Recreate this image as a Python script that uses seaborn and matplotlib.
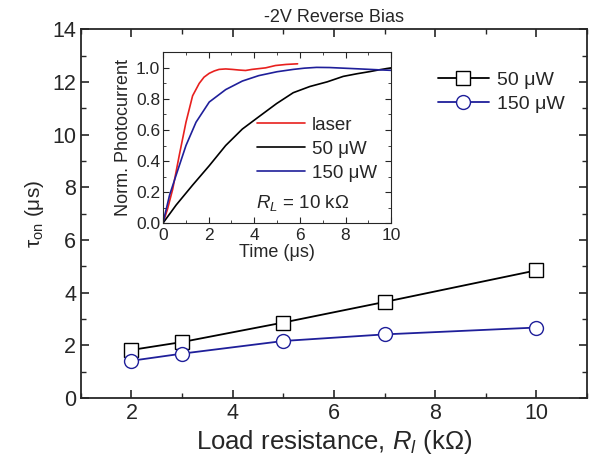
import numpy as np
import pandas as pd
import matplotlib
matplotlib.use("Agg")
import matplotlib.pyplot as plt
from matplotlib.ticker import MultipleLocator, FormatStrFormatter
import seaborn as sns

# main panel: turn-on time vs load resistance
load_kohm = [2, 3, 5, 7, 10]
ton_50uw = [1.83, 2.13, 2.87, 3.65, 4.85]
ton_150uw = [1.42, 1.69, 2.17, 2.42, 2.68]

# inset: normalised photocurrent traces (RL = 10 kOhm)
t_laser = [0, 0.2, 0.43, 0.72, 1.01, 1.3, 1.59, 1.8, 2.03, 2.25, 2.46, 2.75, 3.04, 3.33,
           3.62, 3.9, 4.2, 4.5, 4.93, 5.4, 5.9]
v_laser = [0, 0.09, 0.22, 0.44, 0.65, 0.82, 0.90, 0.94, 0.965, 0.98, 0.99, 0.993, 0.99,
           0.986, 0.983, 0.99, 0.995, 1.0, 1.015, 1.022, 1.026]
t_50 = [0, 0.58, 1.3, 2.03, 2.75, 3.48, 4.2, 4.98, 5.71, 6.44, 7.2, 7.9, 8.5, 9.07, 9.5, 10]
v_50 = [0, 0.117, 0.245, 0.37, 0.5, 0.606, 0.685, 0.77, 0.84, 0.88, 0.91, 0.945, 0.962,
        0.976, 0.988, 1.0]
t_150 = [0, 0.29, 0.58, 1.01, 1.45, 2.03, 2.75, 3.48, 4.2, 5.0, 5.71, 6.2, 6.73, 7.3,
         7.9, 8.5, 9.07, 9.5, 10]
v_150 = [0, 0.18, 0.31, 0.5, 0.65, 0.78, 0.86, 0.915, 0.95, 0.975, 0.99, 0.998, 1.003,
         1.002, 0.998, 0.994, 0.99, 0.987, 0.984]

sns.set_style("ticks")
plt.rcParams['font.family'] = ['Liberation Sans', 'DejaVu Sans']
plt.rcParams['mathtext.fontset'] = 'custom'
plt.rcParams['mathtext.rm'] = 'Liberation Sans'
plt.rcParams['mathtext.it'] = 'Liberation Sans:italic'
plt.rcParams['xtick.direction'] = 'in'
plt.rcParams['ytick.direction'] = 'in'

black = "black"
blue = "#1f1f9a"
red = "#e8201e"

fig = plt.figure(figsize=(5.99, 4.63), dpi=100)
ax = fig.add_axes([0.135, 0.140, 0.845, 0.797])

df = pd.DataFrame({
    "R": load_kohm * 2,
    "ton": ton_50uw + ton_150uw,
    "P": ["50 \u03bcW"] * 5 + ["150 \u03bcW"] * 5,
})
palette = {"50 \u03bcW": black, "150 \u03bcW": blue}
sns.lineplot(data=df, x="R", y="ton", hue="P", style="P", palette=palette,
             markers={"50 \u03bcW": "s", "150 \u03bcW": "o"}, dashes=False,
             markersize=10, markerfacecolor="white", markeredgewidth=1.0,
             linewidth=1.3, legend=False, ax=ax)
for line, col in zip(ax.lines, [black, blue]):
    line.set_markeredgecolor(col)

ax.set_xlim(1, 11)
ax.set_ylim(0, 14)
ax.xaxis.set_major_locator(MultipleLocator(2))
ax.xaxis.set_minor_locator(MultipleLocator(1))
ax.yaxis.set_major_locator(MultipleLocator(2))
ax.yaxis.set_minor_locator(MultipleLocator(1))
ax.tick_params(which="both", top=True, right=True, labelsize=15.5)
ax.tick_params(which="major", length=6, width=1.2)
ax.tick_params(which="minor", length=3.5, width=1.0)
for s in ax.spines.values():
    s.set_linewidth(1.3)
ax.set_xlabel("Load resistance, $R_l$ (k\u03a9)", fontsize=18.5, labelpad=3)
ax.set_ylabel("\u03c4$_{\\rm on}$ (\u03bcs)", fontsize=15, labelpad=4)
ax.set_title("-2V Reverse Bias", fontsize=13, pad=5)

ax.legend(handles=ax.lines[:2], labels=["50 \u03bcW", "150 \u03bcW"],
          loc="upper left", bbox_to_anchor=(0.706, 0.885), frameon=False,
          borderpad=0, borderaxespad=0, fontsize=14, handlelength=2.6,
          handletextpad=0.4, labelspacing=0.3)

# inset
ins = fig.add_axes([0.272, 0.518, 0.381, 0.369])
sns.lineplot(x=t_laser, y=v_laser, color=red, linewidth=1.2, label="laser", ax=ins)
sns.lineplot(x=t_50, y=v_50, color=black, linewidth=1.2, label="50 \u03bcW", ax=ins)
sns.lineplot(x=t_150, y=v_150, color=blue, linewidth=1.2, label="150 \u03bcW", ax=ins)
ins.set_xlim(0, 10)
ins.set_ylim(0, 1.1)
ins.xaxis.set_major_locator(MultipleLocator(2))
ins.xaxis.set_minor_locator(MultipleLocator(1))
ins.yaxis.set_major_locator(MultipleLocator(0.2))
ins.yaxis.set_minor_locator(MultipleLocator(0.1))
ins.yaxis.set_major_formatter(FormatStrFormatter("%.1f"))
ins.tick_params(which="both", top=True, right=True, labelsize=12.5)
ins.tick_params(axis="x", pad=3.5)
ins.tick_params(axis="y", pad=2)
ins.tick_params(which="major", length=4)
ins.tick_params(which="minor", length=2)
ins.set_xlabel("Time (\u03bcs)", fontsize=13, labelpad=1)
ins.set_ylabel("Norm. Photocurrent", fontsize=13, labelpad=3)
ins.legend(loc="upper left", bbox_to_anchor=(0.412, 0.625), frameon=False,
           borderpad=0, borderaxespad=0, fontsize=13.5, handlelength=2.55,
           handletextpad=0.37, labelspacing=0.38)
ins.text(4.08, 0.13, "$R_L$ = 10 k\u03a9", fontsize=13.5, va="center")

fig.savefig("out.png", dpi=100)
